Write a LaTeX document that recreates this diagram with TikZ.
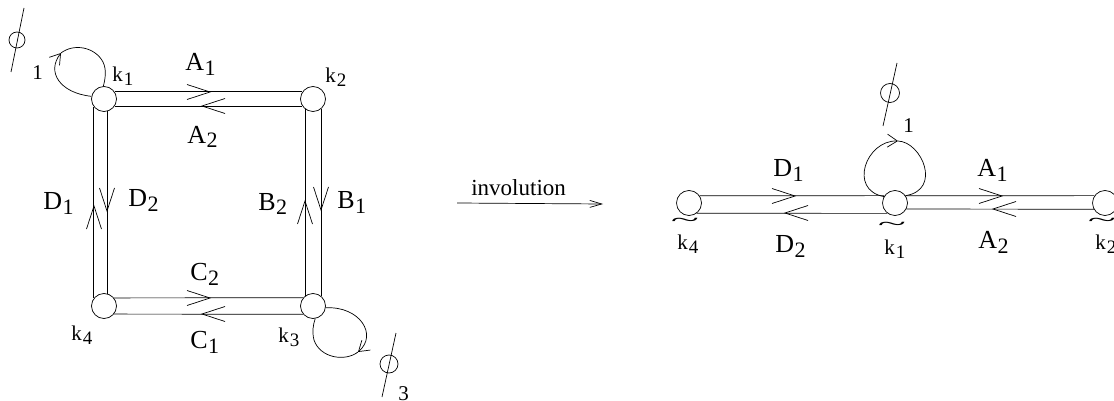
\documentclass[tikz,border=0pt]{standalone}
\usepackage{fontspec}
\usepackage{graphicx}
\setmainfont{Liberation Serif}
\usetikzlibrary{arrows.meta}
\newcommand\Lb[2]{#1\kern0.5pt\raisebox{-5pt}{\fontsize{22}{22}\selectfont #2}}
\newcommand\Kb[2]{#1\kern1pt\raisebox{-4pt}{\fontsize{19}{19}\selectfont #2}}
\tikzset{
  vert/.style={circle,draw,fill=white,minimum size=25pt,inner sep=0},
  phic/.style={circle,draw,minimum size=#1,inner sep=0},
  lab/.style={inner sep=0,anchor=base west,font=\fontsize{26}{26}\selectfont},
  klab/.style={inner sep=0,anchor=base west,font=\fontsize{21}{21}\selectfont},
  tl/.style={inner sep=0,font=\fontsize{20}{20}\selectfont},
  vh/.pic={\draw (-23,7.5) -- (0,0) -- (-23,-7.5);},
  barb/.style={-{Straight Barb[length=10pt,width=13pt]}},
}
\begin{document}
\begin{tikzpicture}[x=1pt,y=-1pt,line width=0.7pt]
\useasboundingbox (0,0) rectangle (1114,401);
% ---------- left square ----------
\node[vert] (k1) at (104,99) {};
\node[vert] (k2) at (313,99) {};
\node[vert] (k3) at (313,306) {};
\node[vert] (k4) at (104,306) {};
% double edges (each as two lines, node to node)
\draw (k1.34) -- (k2.146);
\draw (k1.-34) -- (k2.-146);
\draw (k2.-129.8) -- (k3.129.8);
\draw (k2.-50.2) -- (k3.50.2);
\draw (k4.39.8) -- (k3.140.2);
\draw (k4.-39.8) -- (k3.-140.2);
\draw (k1.-143.1) -- (k4.143.1);
\draw (k1.-76.1) -- (k4.76.1);
% edge arrowheads
\pic at (210,92) {vh};
\pic[rotate=180] at (202,106) {vh};
\pic at (210,298) {vh};
\pic[rotate=180] at (202,314) {vh};
\pic[rotate=90] at (94,206) {vh};
\pic[rotate=-90] at (107,211) {vh};
\pic[rotate=90] at (305,201) {vh};
\pic[rotate=-90] at (321,210) {vh};
% labels
\node[lab] (lA1) at (185,71) {\Lb{A}{1}};
\node[lab] (lA2) at (187,143) {\Lb{A}{2}};
\node[lab] (lD1) at (43,209) {\Lb{D}{1}};
\node[lab] (lD2) at (128,207) {\Lb{D}{2}};
\node[lab] (lB2) at (258,210) {\Lb{B}{2}};
\node[lab] (lB1) at (337,208) {\Lb{B}{1}};
\node[lab] (lC2) at (190,280) {\Lb{C}{2}};
\node[lab] (lC1) at (190,348) {\Lb{C}{1}};
\node[klab] (lk1) at (112,82) {\Kb{k}{1}};
\node[klab] (lk2) at (325,83) {\Kb{k}{2}};
\node[klab] (lk3) at (278,342) {\Kb{k}{3}};
\node[klab] (lk4) at (71,340) {\Kb{k}{4}};
% loops
\draw[barb] (k1.168) .. controls (60,93) and (46,72) .. (61,53);
\draw (61,53) .. controls (74,43) and (95,47) .. (103,62) .. controls (107,70) and (105,80) .. (k1.93);
\draw[barb] (k3.-8) .. controls (360,306) and (378,335) .. (358,352);
\draw (358,352) .. controls (345,362) and (320,358) .. (314,340) .. controls (312,332) and (313,325) .. (k3.-80);
% phi symbols
\node[phic=16pt] (p1) at (17,40) {};
\draw (24,8) -- (11,72);
\node[klab] (n1) at (32,80) {1};
\node[phic=18pt] (p3) at (389,364) {};
\draw (396,333) -- (382,397);
\node[klab] (n3) at (398,400) {3};
% ---------- involution ----------
\coordinate (i1) at (457,203);
\coordinate (i2) at (603,204);
\draw[-{Straight Barb[length=12pt,width=7pt]}] (i1) -- (i2);
\node[inner sep=0,anchor=base west,font=\fontsize{23}{23}\selectfont] (inv) at (471,195) {involution};
% ---------- right graph ----------
\node[vert] (r4) at (689,203) {};
\node[vert] (r1) at (895,203) {};
\node[vert] (r2) at (1105,203) {};
\draw (r4.34.1) -- (r1.145.9);
\draw (r4.-53.1) -- (r1.-126.9);
\draw (r1.34.1) -- (r2.145.9);
\draw (r1.-28.7) -- (r2.-151.3);
\pic at (795,196) {vh};
\pic[rotate=180] at (785,213) {vh};
\pic at (1002,196) {vh};
\pic[rotate=180] at (993,209) {vh};
\node[lab] (rD1) at (773,177) {\Lb{D}{1}};
\node[lab] (rD2) at (775,252) {\Lb{D}{2}};
\node[lab] (rA1) at (977,177) {\Lb{A}{1}};
\node[lab] (rA2) at (978,248) {\Lb{A}{2}};
\node[klab] (rk4) at (677,249) {\Kb{k}{4}};
\node[klab] (rk1) at (884,254) {\Kb{k}{1}};
\node[klab] (rk2) at (1095,249) {\Kb{k}{2}};
\node[tl] (t4) at (685,222) {\scalebox{2.6}[1]{\textasciitilde}};
\node[tl] (t1) at (892,226) {\scalebox{2.6}[1]{\textasciitilde}};
\node[tl] (t2) at (1102,222) {\scalebox{2.6}[1]{\textasciitilde}};
\draw[barb] (r1.150) .. controls (848,190) and (866,140) .. (898,141);
\draw (898,141) .. controls (922,142) and (942,190) .. (r1.35);
\node[phic=19pt] (pr) at (890,93) {};
\draw (897,63) -- (883,126);
\node[klab] (nr1) at (903,133) {1};
\end{tikzpicture}
\end{document}
